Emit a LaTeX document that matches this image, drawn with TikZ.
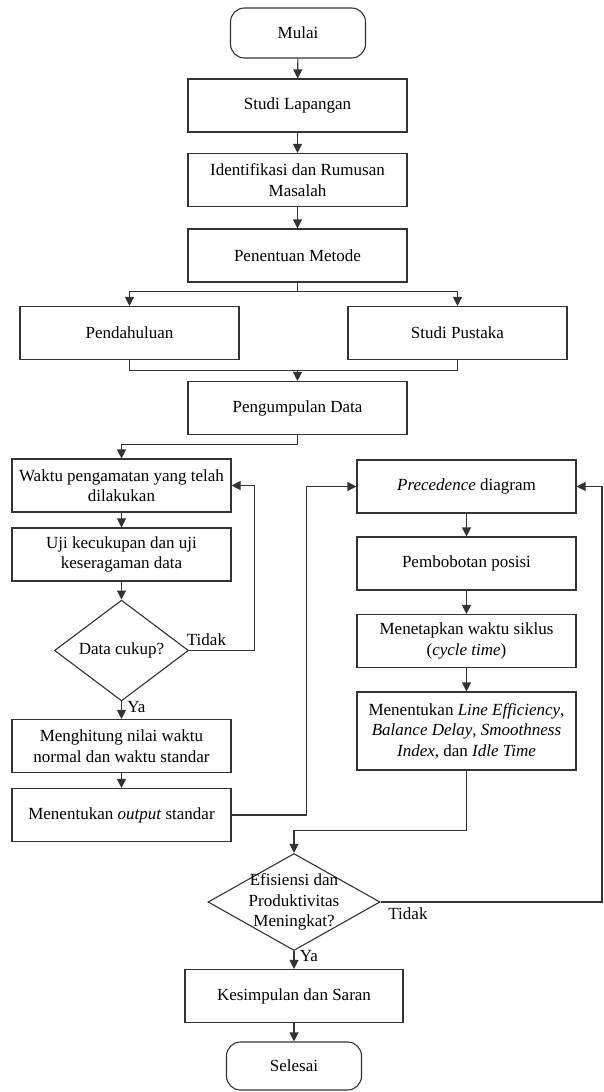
\documentclass[tikz,border=0pt]{standalone}
\usepackage{fontspec}
\setmainfont{Liberation Serif}
\usetikzlibrary{shapes.geometric,arrows.meta}

\begin{document}
\begin{tikzpicture}[x=1pt,y=-1pt,line width=1.1pt,black!80,
		font=\fontsize{17}{20.5}\selectfont,
		every node/.style={text=black},
		box/.style={draw,rectangle,minimum width=219pt,minimum height=53pt,inner sep=0pt,align=center},
		ends/.style={draw,rectangle,rounded corners=14pt,minimum width=135pt,minimum height=50pt,inner sep=0pt},
		cek/.style={draw,diamond,inner sep=0pt,align=center},
		arr/.style={-{Triangle[length=9pt,width=9pt]}}]
			\useasboundingbox (0,0) rectangle (603,1092);
			% alur utama
			\node[ends] (mulai) at (298,33) {Mulai};
			\node[box] (lapangan) at (297.5,105.5) {Studi Lapangan};
			\node[box] (rumusan) at (297.5,180) {Identifikasi dan Rumusan\\Masalah};
			\node[box] (metode) at (297.5,255.5) {Penentuan Metode};
			\node[box] (pendahuluan) at (129.5,333) {Pendahuluan};
			\node[box] (pustaka) at (457.5,333) {Studi Pustaka};
			\node[box] (pengumpulan) at (297.5,408) {Pengumpulan Data};
			% kolom kiri
			\node[box] (waktu) at (121.5,485.5) {Waktu pengamatan yang telah\\dilakukan};
			\node[box] (uji) at (121.5,554.5) {Uji kecukupan dan uji\\keseragaman data};
			\node[cek,minimum width=134pt,minimum height=99pt] (cukup) at (121.5,650.5) {Data cukup?};
			\node[box] (hitung) at (121.5,746) {Menghitung nilai waktu\\normal dan waktu standar};
			\node[box] (output) at (121.5,815) {Menentukan \textit{output} standar};
			% kolom kanan
			\node[box] (precedence) at (466.5,486.5) {\textit{Precedence} diagram};
			\node[box] (bobot) at (466.5,563.5) {Pembobotan posisi};
			\node[box] (siklus) at (466.5,641) {Menetapkan waktu siklus\\(\textit{cycle time})};
			\node[box,minimum height=78pt] (efisien) at (466.5,731) {Menentukan \textit{Line Efficiency},\\\textit{Balance Delay}, \textit{Smoothness}\\\textit{Index}, dan \textit{Idle Time}};
			% akhir
			\node[cek,minimum width=172pt,minimum height=97pt,
				label={[align=center]center:Efisiensi dan\\Produktivitas\\Meningkat?}] (naik) at (294,902) {};
			\node[box,minimum width=218pt] (saran) at (294,996) {Kesimpulan dan Saran};
			\node[ends,minimum height=48pt] (selesai) at (294,1066) {Selesai};
			\coordinate (tepi) at (602,902);

			\draw[arr] (mulai) -- (lapangan);
			\draw[arr] (lapangan) -- (rumusan);
			\draw[arr] (rumusan) -- (metode);
			\draw[arr] (metode.south) -- ++(0,9) -| (pendahuluan.north);
			\draw[arr] (metode.south) -- ++(0,9) -| (pustaka.north);
			\draw (pendahuluan.south) -- ++(0,10) coordinate (gabung) -| (pustaka.south);
			\draw[arr] (gabung -| pengumpulan) -- (pengumpulan.north);
			\draw[arr] (pengumpulan.south) -- ++(0,9) -| (waktu.north);
			\draw[arr] (waktu) -- (uji);
			\draw[arr] (uji) -- (cukup);
			\draw[arr] (cukup.south) -- node[right=2pt,pos=0.3] {Ya} (hitung);
			\draw[arr] (cukup.east) node[anchor=south west,xshift=-6pt,yshift=1pt] {Tidak} -- ++(65,0) |- (waktu.east);
			\draw[arr] (hitung) -- (output);
			\draw[arr] (output.east) -- ++(75,0) |- (precedence.west);
			\draw[arr] (precedence) -- (bobot);
			\draw[arr] (bobot) -- (siklus);
			\draw[arr] (siklus) -- (efisien);
			\draw[arr] (efisien.south) -- ++(0,60) -| (naik.north);
			\draw[arr] (naik.east) node[anchor=north west,xshift=4pt,yshift=-2pt] {Tidak} -- (tepi) |- (precedence.east);
			\draw[arr] (naik.south) -- node[right=2pt,pos=0.3] {Ya} (saran);
			\draw[arr] (saran) -- (selesai);

\end{tikzpicture}
\end{document}
